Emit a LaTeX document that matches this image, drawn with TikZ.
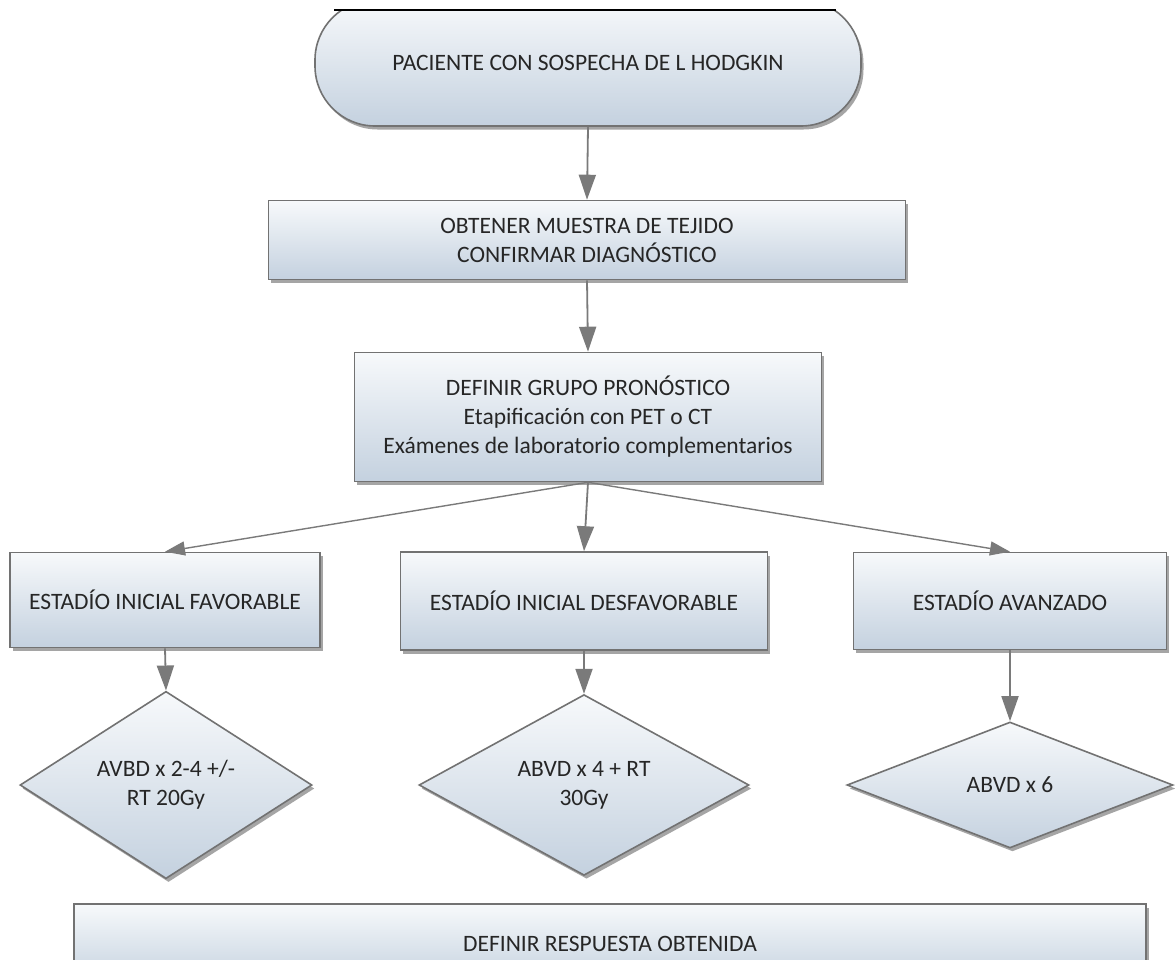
\documentclass[tikz,border=0pt]{standalone}
\usepackage{fontspec}
\setmainfont{Carlito}
\usetikzlibrary{shapes.geometric,arrows.meta,shadows}
\definecolor{boxedge}{HTML}{727272}
\definecolor{boxtop}{HTML}{F7F9FB}
\definecolor{boxbot}{HTML}{C4D1DF}
\definecolor{arrowc}{HTML}{7A7A7A}
\definecolor{txt}{HTML}{262626}
\begin{document}
\begin{tikzpicture}[x=1pt,y=-1pt,
  every node/.style={font=\fontsize{23.5}{29}\selectfont, text=txt, align=center},
  shaded/.style={draw=boxedge, line width=1.6pt, top color=boxtop, bottom color=boxbot,
    drop shadow={shadow xshift=2.5pt, shadow yshift=-3.5pt, opacity=0.5, fill=black!70}},
  procbox/.style={shaded, rectangle, inner sep=0pt},
  termbox/.style={shaded, rectangle, rounded corners=60pt, inner sep=0pt},
  decbox/.style={shaded, diamond, inner sep=0pt},
  arr/.style={draw=arrowc, line width=1.8pt, -{Triangle[length=25pt,width=17pt]}, arrowc},
  brarr/.style={draw=arrowc, line width=1.4pt, -{Triangle[length=20pt,width=14pt]}, arrowc}
]
\useasboundingbox (0,0) rectangle (1175,959);
\fill[white] (0,0) rectangle (1175,959);

\begin{scope}
  \clip (0,10) rectangle (1175,959);
  \node[termbox, minimum width=546pt, minimum height=126pt] (t) at (588,63) {PACIENTE CON SOSPECHA DE L HODGKIN};
\end{scope}
\draw[black, line width=1.5pt] (334,10) -- (836,10);

\node[procbox, minimum width=637pt, minimum height=79pt] (b2) at (587,240)
  {OBTENER MUESTRA DE TEJIDO\\CONFIRMAR DIAGNÓSTICO};
\node[procbox, minimum width=467pt, minimum height=129pt] (b3) at (588,417)
  {DEFINIR GRUPO PRONÓSTICO\\Etapificación con PET o CT\\Exámenes de laboratorio complementarios};

\node[procbox, minimum width=310pt, minimum height=95pt] (l) at (165,600) {ESTADÍO INICIAL FAVORABLE};
\node[procbox, minimum width=367pt, minimum height=98pt] (m) at (584,601) {ESTADÍO INICIAL DESFAVORABLE};
\node[procbox, minimum width=313pt, minimum height=97pt] (r) at (1010,601) {ESTADÍO AVANZADO};

\node[decbox, minimum width=292pt, minimum height=124pt] (dl) at (166,785) {AVBD x 2-4 +/-\\RT 20Gy};
\node[decbox, minimum width=330pt, minimum height=125pt] (dm) at (584,785) {ABVD x 4 + RT\\30Gy};
\node[decbox, minimum width=326pt, minimum height=126pt] (dr) at (1010,785) {ABVD x 6};

\node[procbox, minimum width=1072pt, minimum height=80pt] (fin) at (610,944) {DEFINIR RESPUESTA OBTENIDA};

\draw[arr] (t.south) -- (b2.north);
\draw[arr] (b2.south) -- (b3.north);
\draw[brarr] (b3.south) -- (l.north);
\draw[arr] (b3.south) -- (m.north);
\draw[brarr] (b3.south) -- (r.north);
\draw[arr] (l.south) -- (dl.north);
\draw[arr] (m.south) -- (dm.north);
\draw[arr] (r.south) -- (dr.north);
\end{tikzpicture}
\end{document}
